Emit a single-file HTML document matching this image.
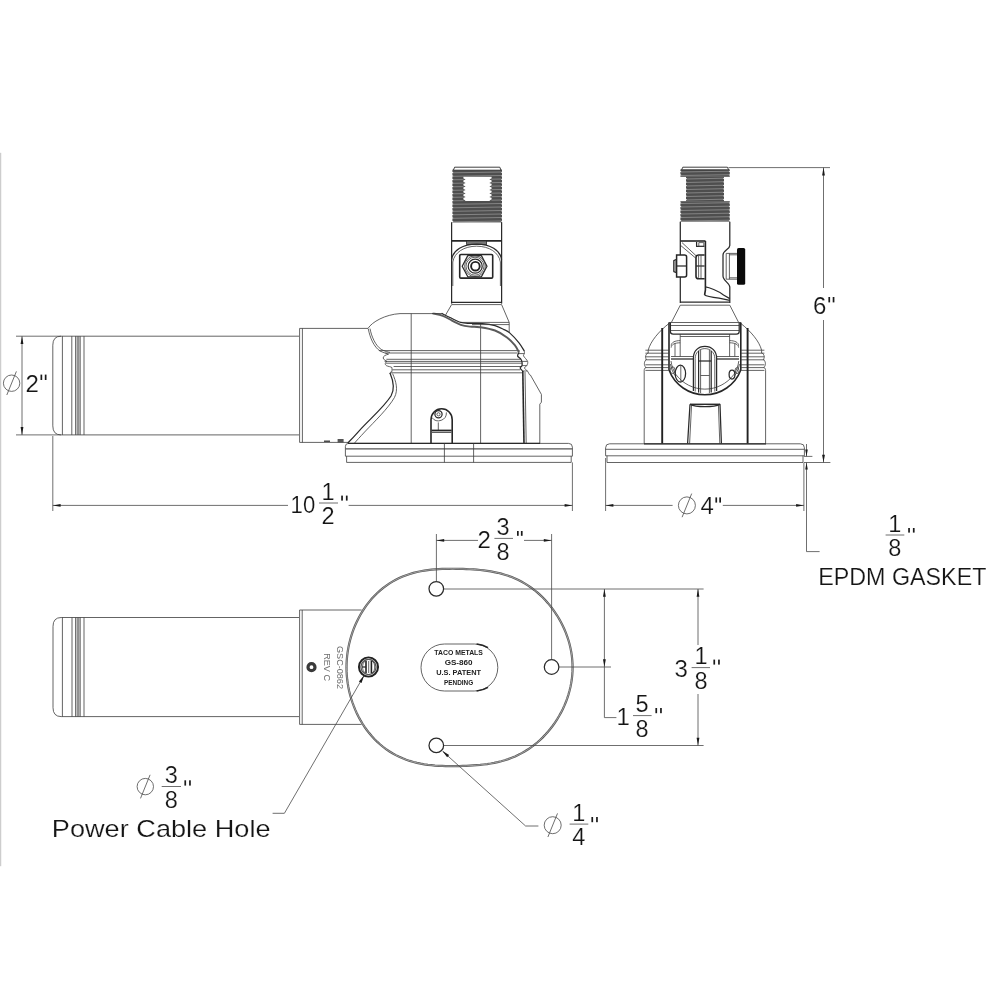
<!DOCTYPE html>
<html><head><meta charset="utf-8"><title>Drawing</title>
<style>
html,body{margin:0;padding:0;background:#fff;}
body{width:1000px;height:1000px;overflow:hidden;font-family:"Liberation Sans",sans-serif;}
svg{display:block;}
.l{stroke:#3c3c3c;stroke-width:.8;fill:none;stroke-linecap:butt;stroke-linejoin:round;}
.k{stroke:#2a2a2a;stroke-width:1.25;fill:none;stroke-linejoin:round;}
.kk{stroke:#222;stroke-width:1.9;fill:none;}
.kk2{stroke:#262626;stroke-width:1.6;fill:none;}
.d{stroke:#4a4a4a;stroke-width:.8;fill:none;}
.g{stroke:#555;stroke-width:1.3;fill:none;}
.a{fill:#1a1a1a;stroke:none;}
.t{font-family:"Liberation Sans",sans-serif;fill:#151515;stroke:#fff;stroke-width:.18;paint-order:fill stroke;}
.lab{font-family:"Liberation Sans",sans-serif;fill:#222;font-weight:bold;}
.rot{font-family:"Liberation Sans",sans-serif;fill:#6e6e6e;}
.scr{stroke:#3a3a3a;stroke-width:3.2;fill:#fff;}
</style></head>
<body>
<svg width="1000" height="1000" viewBox="0 0 1000 1000" style="opacity:.999;will-change:transform">
<rect x="0" y="0" width="1000" height="1000" fill="#fff"/>
<rect x="0" y="152.8" width="1.25" height="713.4" fill="#cdcdcd"/>
<path class="l" d="M299,336.2 H61 Q52.8,336.2 52.8,345.2 V425.9 Q52.8,434.9 61,434.9 H299"/>
<line class="l" x1="62.40" y1="336.20" x2="62.40" y2="434.90"/>
<line class="l" x1="71.80" y1="336.20" x2="71.80" y2="434.90"/>
<line class="l" x1="75.60" y1="336.20" x2="75.60" y2="434.90"/>
<line class="l" x1="77.20" y1="336.20" x2="77.20" y2="434.90"/>
<line class="l" x1="78.80" y1="336.20" x2="78.80" y2="434.90"/>
<line class="l" x1="80.20" y1="336.20" x2="80.20" y2="434.90"/>
<line class="l" x1="84.00" y1="336.20" x2="84.00" y2="434.90"/>
<line class="d" x1="16.00" y1="336.20" x2="61.00" y2="336.20"/>
<line class="d" x1="16.00" y1="434.90" x2="61.00" y2="434.90"/>
<line class="d" x1="22.00" y1="336.20" x2="22.00" y2="434.90"/>
<polygon class="a" points="22.00,336.20 23.40,344.00 20.60,344.00"/>
<polygon class="a" points="22.00,434.90 20.60,427.10 23.40,427.10"/>
<circle class="d" cx="11.60" cy="383.20" r="8.20"/>
<line class="d" x1="6.80" y1="395.00" x2="16.40" y2="371.40"/>
<text class="t" x="25.50" y="391.80" font-size="24" text-anchor="start">2</text>
<rect class="a" x="40.50" y="374.60" width="1.7" height="5.40"/>
<rect class="a" x="44.80" y="374.60" width="1.7" height="5.40"/>
<path class="l" d="M368,328.4 H299.6 V442.4 H348"/>
<line class="l" x1="302.40" y1="328.40" x2="302.40" y2="442.40"/>
<line class="k" x1="324.00" y1="441.20" x2="330.00" y2="441.20"/>
<rect x="337.6" y="439" width="6" height="3.6" fill="#555"/>
<path class="l" d="M368,328.4 C372,322 385,314.5 400,313.6 H433"/>
<path class="l" d="M368.3,328.8 C370,338 374,347 380,351 C384,353 387,353.5 388.5,354.2"/>
<path class="l" d="M370,328.6 C371.6,337 375.6,345.6 381.2,349.4 C385,351.4 388,352 390,352.4"/>
<path class="l" d="M388.5,354.2 C386,354.8 383,356 383.2,358 C383.4,360 386,360.4 387,361.4 C385,362.4 384.6,364.4 386.4,365.6 C388,366.6 391,366.6 392,367.6 V371.6"/>
<path class="l" d="M392,371.6 C390.4,372 389.6,372.8 390,374"/>
<path class="k" d="M390,373 C393,380 395.6,388 391,396 C384,407 370,419 359.4,430.6 C354.6,436 350.4,440.4 347.8,443"/>
<path class="l" d="M392.6,373.6 C395.8,381 398.6,389.4 394.4,397.6 C388,408.6 375,421 364.6,432 C360,437 356.4,440.8 354.6,443"/>
<line class="l" x1="379.00" y1="350.60" x2="519.60" y2="350.60"/>
<line class="l" x1="385.20" y1="353.00" x2="517.60" y2="353.00"/>
<line class="l" x1="386.40" y1="359.30" x2="520.80" y2="359.30"/>
<line class="l" x1="384.60" y1="361.40" x2="522.00" y2="361.40"/>
<line class="l" x1="386.00" y1="363.20" x2="522.00" y2="363.20"/>
<line class="l" x1="393.60" y1="366.50" x2="521.00" y2="366.50"/>
<line class="l" x1="392.40" y1="369.80" x2="520.20" y2="369.80"/>
<line class="l" x1="390.60" y1="372.80" x2="522.60" y2="372.80"/>
<line class="l" x1="411.20" y1="313.60" x2="411.20" y2="443.40"/>
<line class="l" x1="480.60" y1="324.00" x2="480.60" y2="443.40"/>
<path class="l" d="M524.40,351.20 C524.40,351.60 524.53,352.80 524.40,353.60 C524.27,354.40 523.07,354.70 523.60,356.00 C524.13,357.30 527.07,359.80 527.60,361.40 C528.13,363.00 527.33,364.50 526.80,365.60 C526.27,366.70 524.30,367.10 524.40,368.00 C524.50,368.90 526.57,369.90 527.40,371.00 C528.23,372.10 529.07,374.00 529.40,374.60"/>
<path class="k" d="M519.00,352.40 C518.77,353.00 517.30,354.90 517.60,356.00 C517.90,357.10 520.07,358.00 520.80,359.00 C521.53,360.00 521.80,360.90 522.00,362.00 C522.20,363.10 522.30,364.60 522.00,365.60 C521.70,366.60 520.10,367.10 520.20,368.00 C520.30,368.90 522.20,370.50 522.60,371.00"/>
<line class="l" x1="519.00" y1="353.60" x2="524.40" y2="353.60"/>
<line class="l" x1="522.00" y1="361.40" x2="527.40" y2="361.40"/>
<line class="l" x1="522.00" y1="365.60" x2="526.80" y2="365.60"/>
<line class="l" x1="522.60" y1="371.00" x2="527.40" y2="371.00"/>
<path class="kk2" d="M522.8,371 L524,443.4"/>
<path class="l" d="M525,372 L526.2,443.4"/>
<path class="l" d="M529.4,374.6 L530.4,375 L541.4,394.4 V402.2 L539.8,404.2 V443.4"/>
<path class="k" d="M441.60,313.40 C443.00,314.08 446.80,316.00 450.00,317.50 C453.20,319.00 457.47,321.42 460.80,322.40 C464.13,323.38 466.40,323.20 470.00,323.40 C473.60,323.60 478.23,323.22 482.40,323.60 C486.57,323.98 491.40,324.70 495.00,325.70 C498.60,326.70 501.60,328.45 504.00,329.60 C506.40,330.75 506.90,330.40 509.40,332.60 C511.90,334.80 516.50,339.70 519.00,342.80 C521.50,345.90 523.50,349.80 524.40,351.20"/>
<path d="M432.60,313.40 C434.30,313.80 439.57,314.60 442.80,315.80 C446.03,317.00 449.00,319.10 452.00,320.60 C455.00,322.10 457.80,323.80 460.80,324.80 C463.80,325.80 466.80,326.20 470.00,326.60 C473.20,327.00 475.83,326.55 480.00,327.20 C484.17,327.85 490.50,328.80 495.00,330.50 C499.50,332.20 503.70,334.95 507.00,337.40 C510.30,339.85 512.80,342.70 514.80,345.20 C516.80,347.70 518.30,351.20 519.00,352.40" fill="none" stroke="#5a5a5a" stroke-width="1.9"/>
<line class="l" x1="432.00" y1="313.50" x2="442.00" y2="313.50"/>
<line class="k" x1="451.60" y1="222.00" x2="451.60" y2="303.60"/>
<line class="k" x1="501.60" y1="222.00" x2="501.60" y2="303.60"/>
<line class="k" x1="451.60" y1="302.40" x2="501.60" y2="302.40"/>
<line class="l" x1="451.60" y1="304.60" x2="501.60" y2="304.60"/>
<line class="l" x1="451.60" y1="304.60" x2="445.60" y2="315.00"/>
<path class="l" d="M501.6,304.6 L509.2,322.4 V332.6"/>
<line class="l" x1="462.00" y1="322.40" x2="509.20" y2="322.40"/>
<line class="l" x1="472.00" y1="324.60" x2="509.20" y2="324.60"/>
<rect x="452.4" y="169.6" width="49.6" height="52.8" fill="#4e4e4e"/>
<line x1="452.4" y1="172.80" x2="502" y2="172.00" stroke="#8e8e8e" stroke-width="0.85"/>
<polygon fill="#fff" points="451.4,171.40 453.5,172.40 451.4,173.40"/>
<polygon fill="#fff" points="503,171.40 500.9,172.40 503,173.40"/>
<line x1="452.4" y1="176.30" x2="502" y2="175.50" stroke="#8e8e8e" stroke-width="0.85"/>
<polygon fill="#fff" points="451.4,174.90 453.5,175.90 451.4,176.90"/>
<polygon fill="#fff" points="503,174.90 500.9,175.90 503,176.90"/>
<line x1="452.4" y1="179.80" x2="502" y2="179.00" stroke="#8e8e8e" stroke-width="0.85"/>
<polygon fill="#fff" points="451.4,178.40 453.5,179.40 451.4,180.40"/>
<polygon fill="#fff" points="503,178.40 500.9,179.40 503,180.40"/>
<line x1="452.4" y1="183.30" x2="502" y2="182.50" stroke="#8e8e8e" stroke-width="0.85"/>
<polygon fill="#fff" points="451.4,181.90 453.5,182.90 451.4,183.90"/>
<polygon fill="#fff" points="503,181.90 500.9,182.90 503,183.90"/>
<line x1="452.4" y1="186.80" x2="502" y2="186.00" stroke="#8e8e8e" stroke-width="0.85"/>
<polygon fill="#fff" points="451.4,185.40 453.5,186.40 451.4,187.40"/>
<polygon fill="#fff" points="503,185.40 500.9,186.40 503,187.40"/>
<line x1="452.4" y1="190.30" x2="502" y2="189.50" stroke="#8e8e8e" stroke-width="0.85"/>
<polygon fill="#fff" points="451.4,188.90 453.5,189.90 451.4,190.90"/>
<polygon fill="#fff" points="503,188.90 500.9,189.90 503,190.90"/>
<line x1="452.4" y1="193.80" x2="502" y2="193.00" stroke="#8e8e8e" stroke-width="0.85"/>
<polygon fill="#fff" points="451.4,192.40 453.5,193.40 451.4,194.40"/>
<polygon fill="#fff" points="503,192.40 500.9,193.40 503,194.40"/>
<line x1="452.4" y1="197.30" x2="502" y2="196.50" stroke="#8e8e8e" stroke-width="0.85"/>
<polygon fill="#fff" points="451.4,195.90 453.5,196.90 451.4,197.90"/>
<polygon fill="#fff" points="503,195.90 500.9,196.90 503,197.90"/>
<line x1="452.4" y1="200.80" x2="502" y2="200.00" stroke="#8e8e8e" stroke-width="0.85"/>
<polygon fill="#fff" points="451.4,199.40 453.5,200.40 451.4,201.40"/>
<polygon fill="#fff" points="503,199.40 500.9,200.40 503,201.40"/>
<line x1="452.4" y1="204.30" x2="502" y2="203.50" stroke="#8e8e8e" stroke-width="0.85"/>
<polygon fill="#fff" points="451.4,202.90 453.5,203.90 451.4,204.90"/>
<polygon fill="#fff" points="503,202.90 500.9,203.90 503,204.90"/>
<line x1="452.4" y1="207.80" x2="502" y2="207.00" stroke="#8e8e8e" stroke-width="0.85"/>
<polygon fill="#fff" points="451.4,206.40 453.5,207.40 451.4,208.40"/>
<polygon fill="#fff" points="503,206.40 500.9,207.40 503,208.40"/>
<line x1="452.4" y1="211.30" x2="502" y2="210.50" stroke="#8e8e8e" stroke-width="0.85"/>
<polygon fill="#fff" points="451.4,209.90 453.5,210.90 451.4,211.90"/>
<polygon fill="#fff" points="503,209.90 500.9,210.90 503,211.90"/>
<line x1="452.4" y1="214.80" x2="502" y2="214.00" stroke="#8e8e8e" stroke-width="0.85"/>
<polygon fill="#fff" points="451.4,213.40 453.5,214.40 451.4,215.40"/>
<polygon fill="#fff" points="503,213.40 500.9,214.40 503,215.40"/>
<line x1="452.4" y1="218.30" x2="502" y2="217.50" stroke="#8e8e8e" stroke-width="0.85"/>
<polygon fill="#fff" points="451.4,216.90 453.5,217.90 451.4,218.90"/>
<polygon fill="#fff" points="503,216.90 500.9,217.90 503,218.90"/>
<line x1="452.4" y1="221.80" x2="502" y2="221.00" stroke="#8e8e8e" stroke-width="0.85"/>
<polygon fill="#fff" points="451.4,220.40 453.5,221.40 451.4,222.40"/>
<polygon fill="#fff" points="503,220.40 500.9,221.40 503,222.40"/>
<path d="M453.4,170.2 L454.6,167.2 H499.8 L501,170.2 Z" fill="#fff" stroke="#2a2a2a" stroke-width="0.9"/>
<rect x="463.4" y="176.8" width="28.2" height="24.2" fill="#fff"/>
<polygon fill="#4e4e4e" points="463.2,178.30 465.6,179.40 463.2,180.50"/>
<polygon fill="#4e4e4e" points="491.8,178.30 489.4,179.40 491.8,180.50"/>
<polygon fill="#4e4e4e" points="463.2,181.80 465.6,182.90 463.2,184.00"/>
<polygon fill="#4e4e4e" points="491.8,181.80 489.4,182.90 491.8,184.00"/>
<polygon fill="#4e4e4e" points="463.2,185.30 465.6,186.40 463.2,187.50"/>
<polygon fill="#4e4e4e" points="491.8,185.30 489.4,186.40 491.8,187.50"/>
<polygon fill="#4e4e4e" points="463.2,188.80 465.6,189.90 463.2,191.00"/>
<polygon fill="#4e4e4e" points="491.8,188.80 489.4,189.90 491.8,191.00"/>
<polygon fill="#4e4e4e" points="463.2,192.30 465.6,193.40 463.2,194.50"/>
<polygon fill="#4e4e4e" points="491.8,192.30 489.4,193.40 491.8,194.50"/>
<polygon fill="#4e4e4e" points="463.2,195.80 465.6,196.90 463.2,198.00"/>
<polygon fill="#4e4e4e" points="491.8,195.80 489.4,196.90 491.8,198.00"/>
<polygon fill="#4e4e4e" points="463.2,199.30 465.6,200.40 463.2,201.50"/>
<polygon fill="#4e4e4e" points="491.8,199.30 489.4,200.40 491.8,201.50"/>
<line class="kk2" x1="451.60" y1="240.90" x2="501.60" y2="240.90"/>
<rect x="466.6" y="241" width="20" height="3.4" fill="#777" stroke="#2a2a2a" stroke-width="0.8"/>
<path class="k" d="M451.6,259.6 C453,250 463,244 476.6,244 C490.2,244 500.2,250 501.6,259.6"/>
<path class="l" d="M452.8,286 V262 C454.4,252.4 464,246.2 476.6,246.2 C489.2,246.2 498.8,252.4 500.4,262 V286"/>
<rect class="kk2" x="459.7" y="254.5" width="33" height="23.6" rx="1.2"/>
<polygon class="k" points="462.20000000000005,266.2 467.8,255.6 481.40000000000003,255.6 487.0,266.2 481.40000000000003,276.8 467.8,276.8"/>
<circle class="l" cx="475.00" cy="266.20" r="10.40"/>
<circle class="l" cx="475.00" cy="266.20" r="9.00"/>
<circle class="k" cx="475.20" cy="266.20" r="7.00"/>
<circle class="kk" cx="475.40" cy="266.20" r="4.30"/>
<path class="kk2" d="M431,443.2 V419.8 C431,413.6 435.6,408.8 441.6,408.8 C447.6,408.8 452.2,413.6 452.2,419.8 V443.2"/>
<circle class="k" cx="438.50" cy="414.30" r="3.60"/>
<circle class="l" cx="438.50" cy="414.30" r="1.60"/>
<path class="l" d="M432,417.6 A8,8 0 0 0 446.4,412.4"/>
<line class="l" x1="438.30" y1="422.40" x2="438.30" y2="430.00"/>
<line class="kk2" x1="431.60" y1="430.40" x2="451.60" y2="430.40"/>
<line class="g" x1="431.60" y1="432.30" x2="451.60" y2="432.30"/>
<path class="l" d="M348.4,443.4 H568.6 Q572.4,443.4 572.4,447.2 V456.2 H345.4 V446.4 Q345.4,443.4 348.4,443.4"/>
<line class="k" x1="348.00" y1="443.30" x2="540.00" y2="443.30"/>
<line class="g" x1="345.40" y1="448.80" x2="572.40" y2="448.80"/>
<path class="l" d="M346.6,456.2 V462.4 H571.2 V456.2"/>
<line class="l" x1="444.40" y1="443.40" x2="444.40" y2="462.40"/>
<line class="l" x1="473.60" y1="443.40" x2="473.60" y2="462.40"/>
<line class="d" x1="52.80" y1="436.00" x2="52.80" y2="511.00"/>
<line class="d" x1="572.40" y1="462.40" x2="572.40" y2="511.00"/>
<line class="d" x1="52.80" y1="505.40" x2="288.00" y2="505.40"/>
<line class="d" x1="348.60" y1="505.40" x2="572.40" y2="505.40"/>
<polygon class="a" points="52.80,505.40 60.60,504.00 60.60,506.80"/>
<polygon class="a" points="572.40,505.40 564.60,506.80 564.60,504.00"/>
<text class="t" x="290.60" y="512.60" font-size="24" text-anchor="start" textLength="24.6" lengthAdjust="spacingAndGlyphs">10</text>
<text class="t" x="328.00" y="499.70" font-size="23.5" text-anchor="middle">1</text>
<line class="d" x1="319.00" y1="503.00" x2="338.00" y2="503.00"/>
<text class="t" x="328.00" y="524.30" font-size="23.5" text-anchor="middle">2</text>
<rect class="a" x="341.20" y="495.60" width="1.7" height="5.00"/>
<rect class="a" x="345.90" y="495.60" width="1.7" height="5.00"/>
<rect x="680.4" y="169.4" width="49.4" height="7.4" fill="#4e4e4e"/>
<rect x="686" y="176.6" width="38" height="24.8" fill="#4e4e4e"/>
<rect x="680.4" y="201.2" width="49.4" height="20.4" fill="#4e4e4e"/>
<line x1="680.4" y1="172.00" x2="729.8" y2="171.20" stroke="#8e8e8e" stroke-width="0.85"/>
<polygon fill="#fff" points="679.4,170.60 681.5,171.60 679.4,172.60"/>
<polygon fill="#fff" points="730.8,170.60 728.6999999999999,171.60 730.8,172.60"/>
<line x1="680.4" y1="175.50" x2="729.8" y2="174.70" stroke="#8e8e8e" stroke-width="0.85"/>
<polygon fill="#fff" points="679.4,174.10 681.5,175.10 679.4,176.10"/>
<polygon fill="#fff" points="730.8,174.10 728.6999999999999,175.10 730.8,176.10"/>
<line x1="686" y1="179.00" x2="724" y2="178.20" stroke="#8e8e8e" stroke-width="0.85"/>
<polygon fill="#fff" points="685,177.60 687.1,178.60 685,179.60"/>
<polygon fill="#fff" points="725,177.60 722.9,178.60 725,179.60"/>
<line x1="686" y1="182.50" x2="724" y2="181.70" stroke="#8e8e8e" stroke-width="0.85"/>
<polygon fill="#fff" points="685,181.10 687.1,182.10 685,183.10"/>
<polygon fill="#fff" points="725,181.10 722.9,182.10 725,183.10"/>
<line x1="686" y1="186.00" x2="724" y2="185.20" stroke="#8e8e8e" stroke-width="0.85"/>
<polygon fill="#fff" points="685,184.60 687.1,185.60 685,186.60"/>
<polygon fill="#fff" points="725,184.60 722.9,185.60 725,186.60"/>
<line x1="686" y1="189.50" x2="724" y2="188.70" stroke="#8e8e8e" stroke-width="0.85"/>
<polygon fill="#fff" points="685,188.10 687.1,189.10 685,190.10"/>
<polygon fill="#fff" points="725,188.10 722.9,189.10 725,190.10"/>
<line x1="686" y1="193.00" x2="724" y2="192.20" stroke="#8e8e8e" stroke-width="0.85"/>
<polygon fill="#fff" points="685,191.60 687.1,192.60 685,193.60"/>
<polygon fill="#fff" points="725,191.60 722.9,192.60 725,193.60"/>
<line x1="686" y1="196.50" x2="724" y2="195.70" stroke="#8e8e8e" stroke-width="0.85"/>
<polygon fill="#fff" points="685,195.10 687.1,196.10 685,197.10"/>
<polygon fill="#fff" points="725,195.10 722.9,196.10 725,197.10"/>
<line x1="686" y1="200.00" x2="724" y2="199.20" stroke="#8e8e8e" stroke-width="0.85"/>
<polygon fill="#fff" points="685,198.60 687.1,199.60 685,200.60"/>
<polygon fill="#fff" points="725,198.60 722.9,199.60 725,200.60"/>
<line x1="680.4" y1="203.50" x2="729.8" y2="202.70" stroke="#8e8e8e" stroke-width="0.85"/>
<polygon fill="#fff" points="679.4,202.10 681.5,203.10 679.4,204.10"/>
<polygon fill="#fff" points="730.8,202.10 728.6999999999999,203.10 730.8,204.10"/>
<line x1="680.4" y1="207.00" x2="729.8" y2="206.20" stroke="#8e8e8e" stroke-width="0.85"/>
<polygon fill="#fff" points="679.4,205.60 681.5,206.60 679.4,207.60"/>
<polygon fill="#fff" points="730.8,205.60 728.6999999999999,206.60 730.8,207.60"/>
<line x1="680.4" y1="210.50" x2="729.8" y2="209.70" stroke="#8e8e8e" stroke-width="0.85"/>
<polygon fill="#fff" points="679.4,209.10 681.5,210.10 679.4,211.10"/>
<polygon fill="#fff" points="730.8,209.10 728.6999999999999,210.10 730.8,211.10"/>
<line x1="680.4" y1="214.00" x2="729.8" y2="213.20" stroke="#8e8e8e" stroke-width="0.85"/>
<polygon fill="#fff" points="679.4,212.60 681.5,213.60 679.4,214.60"/>
<polygon fill="#fff" points="730.8,212.60 728.6999999999999,213.60 730.8,214.60"/>
<line x1="680.4" y1="217.50" x2="729.8" y2="216.70" stroke="#8e8e8e" stroke-width="0.85"/>
<polygon fill="#fff" points="679.4,216.10 681.5,217.10 679.4,218.10"/>
<polygon fill="#fff" points="730.8,216.10 728.6999999999999,217.10 730.8,218.10"/>
<line x1="680.4" y1="221.00" x2="729.8" y2="220.20" stroke="#8e8e8e" stroke-width="0.85"/>
<polygon fill="#fff" points="679.4,219.60 681.5,220.60 679.4,221.60"/>
<polygon fill="#fff" points="730.8,219.60 728.6999999999999,220.60 730.8,221.60"/>
<path d="M681.6,169.8 L682.8,167.2 H727.4 L728.6,169.8 Z" fill="#fff" stroke="#2a2a2a" stroke-width="0.9"/>
<line class="k" x1="680.30" y1="221.80" x2="680.30" y2="303.00"/>
<path class="k" d="M729.8,221.8 V245.4 C729.8,249.4 723,250.4 723,255 V276 C723,281 729.8,283 729.8,287 V303"/>
<line class="kk2" x1="680.30" y1="241.00" x2="705.50" y2="241.00"/>
<path class="kk2" d="M705.4,241 V290 L704.6,295"/>
<line class="l" x1="682.00" y1="242.60" x2="696.60" y2="256.20"/>
<line class="l" x1="680.60" y1="245.40" x2="695.60" y2="258.00"/>
<path class="k" d="M696.6,242 V246.4 H704.4"/>
<rect class="l" x="698.8" y="242.6" width="5" height="3.8"/>
<path d="M676.6,255 H684.6 Q686.6,255 686.6,257 V275 Q686.6,277 684.6,277 H676.6 Z" fill="#fff" stroke="#262626" stroke-width="1.5"/>
<path class="k" d="M676.6,259.4 L673.8,260.6 V271.6 L676.6,272.6"/>
<line class="l" x1="675.20" y1="260.40" x2="675.20" y2="271.80"/>
<line class="k" x1="676.60" y1="266.00" x2="686.60" y2="266.00"/>
<path class="kk2" d="M704.6,255 H698.6 Q696,255 696,257.6 V276.2 Q696,278.8 698.6,278.8 H704.6"/>
<line class="k" x1="696.00" y1="266.00" x2="704.60" y2="266.00"/>
<line class="l" x1="698.60" y1="256.00" x2="698.60" y2="277.80"/>
<line class="l" x1="701.00" y1="255.40" x2="701.00" y2="278.40"/>
<path class="k" d="M705.4,286.9 C709,287.4 718,290.6 723.5,295 L729.8,298.6"/>
<path class="k" d="M704.6,295 C706,296 712,297.2 719,298.2 L729.8,300.4"/>
<path class="l" d="M726.2,253.4 H737 M726.2,279.2 H737"/>
<line class="l" x1="726.20" y1="253.40" x2="726.20" y2="279.20"/>
<line class="l" x1="729.40" y1="253.40" x2="729.40" y2="279.20"/>
<line class="l" x1="729.40" y1="254.80" x2="737.00" y2="254.80"/>
<line class="l" x1="729.40" y1="277.80" x2="737.00" y2="277.80"/>
<rect x="737" y="248" width="8.2" height="36.8" rx="1.6" fill="#0a0a0a"/>
<line class="k" x1="680.30" y1="302.20" x2="729.80" y2="302.20"/>
<line class="l" x1="680.30" y1="305.20" x2="729.80" y2="305.20"/>
<line class="l" x1="680.30" y1="305.20" x2="671.40" y2="322.40"/>
<line class="l" x1="729.80" y1="305.20" x2="738.60" y2="322.40"/>
<line class="l" x1="668.80" y1="322.50" x2="741.00" y2="322.50"/>
<line class="l" x1="670.40" y1="325.50" x2="739.20" y2="325.50"/>
<line class="l" x1="670.40" y1="330.50" x2="739.20" y2="330.50"/>
<path class="k" d="M670.4,322.5 V331.4 Q670.4,334 673.2,334 H736.4 Q739.2,334 739.2,331.4 V322.5"/>
<line class="l" x1="680.20" y1="336.50" x2="729.60" y2="336.50"/>
<line class="l" x1="680.20" y1="334.00" x2="680.20" y2="356.60"/>
<line class="l" x1="729.60" y1="334.00" x2="729.60" y2="356.60"/>
<path class="l" d="M671.2,345.6 C671.2,342.4 675,340.6 680.2,340.6"/>
<path class="l" d="M738.6,345.6 C738.6,342.4 734.8,340.6 729.6,340.6"/>
<path class="l" d="M671.2,347.6 C671.2,344.4 675,342.8 680.2,342.8"/>
<path class="l" d="M738.6,347.6 C738.6,344.4 734.8,342.8 729.6,342.8"/>
<line class="l" x1="675.00" y1="343.40" x2="675.00" y2="356.50"/>
<line class="l" x1="734.80" y1="343.40" x2="734.80" y2="356.50"/>
<path class="l" d="M668.8,323.6 C659,331.4 650.6,341 648.2,350.2"/>
<path class="l" d="M741,323.6 C750.8,331.4 759.2,341 761.6,350.2"/>
<path class="l" d="M648.2,350.2 V353 C645.6,354 644.8,357 646.4,359.6 C644,361 643.6,365.6 646,367.4 C644.6,368 644.2,369.4 644.2,370.4 V443.6"/>
<path class="l" d="M761.6,350.2 V353 C764.2,354 765,357 763.4,359.6 C765.8,361 766.2,365.6 763.8,367.4 C765.2,368 765.6,369.4 765.6,370.4 V443.6"/>
<line class="l" x1="645.40" y1="350.20" x2="668.60" y2="350.20"/>
<line class="l" x1="741.20" y1="350.20" x2="764.40" y2="350.20"/>
<line class="l" x1="645.40" y1="353.20" x2="668.60" y2="353.20"/>
<line class="l" x1="741.20" y1="353.20" x2="764.40" y2="353.20"/>
<line class="l" x1="645.40" y1="356.80" x2="668.60" y2="356.80"/>
<line class="l" x1="741.20" y1="356.80" x2="764.40" y2="356.80"/>
<line class="l" x1="645.40" y1="359.80" x2="668.60" y2="359.80"/>
<line class="l" x1="741.20" y1="359.80" x2="764.40" y2="359.80"/>
<line class="l" x1="645.40" y1="364.80" x2="668.60" y2="364.80"/>
<line class="l" x1="741.20" y1="364.80" x2="764.40" y2="364.80"/>
<line class="l" x1="645.40" y1="367.60" x2="668.60" y2="367.60"/>
<line class="l" x1="741.20" y1="367.60" x2="764.40" y2="367.60"/>
<line class="l" x1="645.40" y1="370.40" x2="668.60" y2="370.40"/>
<line class="l" x1="741.20" y1="370.40" x2="764.40" y2="370.40"/>
<line class="kk" x1="662.20" y1="328.00" x2="662.20" y2="443.60"/>
<line class="kk" x1="747.60" y1="328.00" x2="747.60" y2="443.60"/>
<path class="kk2" d="M669,322.4 V370 A38.4,38.4 0 0 0 740.8,370 V322.4"/>
<path class="l" d="M671,361 C671.6,366 673.4,370.4 676,374.6 A36,36 0 0 0 733.8,374.6 C736.4,370.4 738.2,366 738.8,361"/>
<path class="l" d="M670.4,364 C671,368 672.6,372 675,375.6"/>
<path class="l" d="M739.4,364 C738.8,368 737.2,372 734.8,375.6"/>
<line class="l" x1="671.00" y1="356.50" x2="693.40" y2="356.50"/>
<line class="k" x1="671.00" y1="359.00" x2="693.40" y2="359.00"/>
<line class="l" x1="716.60" y1="356.50" x2="739.00" y2="356.50"/>
<line class="k" x1="716.60" y1="359.00" x2="739.00" y2="359.00"/>
<path class="k" d="M693.4,391 V358 C693.4,351 698,346.4 704.9,346.4 C711.8,346.4 716.6,351 716.6,358 V391"/>
<path class="l" d="M695.2,391.6 V358.4 C695.2,352.6 699.4,348.6 704.9,348.6 C710.4,348.6 714.8,352.6 714.8,358.4 V391.6"/>
<line class="k" x1="698.60" y1="351.00" x2="698.60" y2="392.60"/>
<line class="k" x1="711.20" y1="351.00" x2="711.20" y2="392.60"/>
<line class="l" x1="700.60" y1="350.00" x2="700.60" y2="393.00"/>
<line class="l" x1="709.40" y1="350.00" x2="709.40" y2="393.00"/>
<line class="k" x1="698.60" y1="361.00" x2="711.20" y2="361.00"/>
<line class="l" x1="700.60" y1="375.50" x2="709.40" y2="375.50"/>
<ellipse class="k" cx="680.4" cy="373.6" rx="5.2" ry="8.4"/>
<line class="l" x1="680.80" y1="365.40" x2="680.80" y2="381.80"/>
<ellipse class="l" cx="672.6" cy="370.2" rx="2.4" ry="3.4"/>
<ellipse class="k" cx="732" cy="374.6" rx="2.9" ry="4.4"/>
<ellipse class="l" cx="737" cy="370.6" rx="2" ry="3"/>
<path class="k" d="M690,404.4 H720 L721.4,443.6 M690,404.4 L687.6,443.6"/>
<path class="l" d="M691.6,404.4 L689.6,443.6 M718.4,404.4 L719.8,443.6"/>
<path class="k" d="M690,404.4 C696,407.4 714,407.4 720,404.4"/>
<line class="k" x1="690.00" y1="404.40" x2="720.00" y2="404.40"/>
<path class="l" d="M609.6,443.8 H800.4 Q804.4,443.8 804.4,447.8 V455.8 H605.6 V447.8 Q605.6,443.8 609.6,443.8"/>
<line class="k" x1="644.00" y1="443.80" x2="766.00" y2="443.80"/>
<line class="l" x1="605.60" y1="449.30" x2="804.40" y2="449.30"/>
<path class="l" d="M607,455.8 V462.5 H803 V455.8"/>
<line class="d" x1="605.60" y1="458.00" x2="605.60" y2="511.00"/>
<line class="d" x1="803.90" y1="462.50" x2="803.90" y2="511.00"/>
<line class="d" x1="605.60" y1="505.40" x2="672.60" y2="505.40"/>
<line class="d" x1="722.80" y1="505.40" x2="803.90" y2="505.40"/>
<polygon class="a" points="605.60,505.40 613.40,504.00 613.40,506.80"/>
<polygon class="a" points="803.90,505.40 796.10,506.80 796.10,504.00"/>
<circle class="d" cx="686.90" cy="505.40" r="8.50"/>
<line class="d" x1="682.10" y1="517.20" x2="691.70" y2="493.60"/>
<text class="t" x="700.60" y="514.40" font-size="24" text-anchor="start">4</text>
<rect class="a" x="715.40" y="497.40" width="1.7" height="5.20"/>
<rect class="a" x="719.30" y="497.40" width="1.7" height="5.20"/>
<line class="d" x1="728.40" y1="167.60" x2="830.00" y2="167.60"/>
<line class="d" x1="804.00" y1="462.50" x2="830.40" y2="462.50"/>
<line class="d" x1="823.50" y1="167.60" x2="823.50" y2="288.00"/>
<line class="d" x1="823.50" y1="320.00" x2="823.50" y2="462.50"/>
<polygon class="a" points="823.50,167.60 824.90,175.40 822.10,175.40"/>
<polygon class="a" points="823.50,462.50 822.10,454.70 824.90,454.70"/>
<text class="t" x="813.00" y="314.20" font-size="24" text-anchor="start">6</text>
<rect class="a" x="828.40" y="297.00" width="1.7" height="5.40"/>
<rect class="a" x="832.70" y="297.00" width="1.7" height="5.40"/>
<line class="d" x1="804.00" y1="456.40" x2="812.40" y2="456.40"/>
<line class="d" x1="806.50" y1="444.00" x2="806.50" y2="456.40"/>
<polygon class="a" points="806.50,456.40 805.20,449.40 807.80,449.40"/>
<line class="d" x1="806.50" y1="462.50" x2="806.50" y2="551.60"/>
<polygon class="a" points="806.50,462.50 807.80,469.50 805.20,469.50"/>
<line class="d" x1="806.50" y1="551.60" x2="819.60" y2="551.60"/>
<text class="t" x="894.90" y="531.70" font-size="23.5" text-anchor="middle">1</text>
<line class="d" x1="885.60" y1="535.00" x2="904.30" y2="535.00"/>
<text class="t" x="894.90" y="556.30" font-size="23.5" text-anchor="middle">8</text>
<rect class="a" x="908.20" y="528.00" width="1.7" height="4.60"/>
<rect class="a" x="912.90" y="528.00" width="1.7" height="4.60"/>
<text class="t" x="818.20" y="585.30" font-size="24" text-anchor="start" textLength="168.2" lengthAdjust="spacingAndGlyphs">EPDM GASKET</text>
<path class="l" d="M299,617.5 H61.2 Q53,617.5 53,626.5 V707.6 Q53,716.6 61.2,716.6 H299"/>
<line class="l" x1="62.40" y1="617.50" x2="62.40" y2="716.60"/>
<line class="l" x1="72.00" y1="617.50" x2="72.00" y2="716.60"/>
<line class="l" x1="75.60" y1="617.50" x2="75.60" y2="716.60"/>
<line class="l" x1="77.20" y1="617.50" x2="77.20" y2="716.60"/>
<line class="l" x1="78.80" y1="617.50" x2="78.80" y2="716.60"/>
<line class="l" x1="80.20" y1="617.50" x2="80.20" y2="716.60"/>
<line class="l" x1="84.00" y1="617.50" x2="84.00" y2="716.60"/>
<path class="l" d="M361.6,610 H299.6 V724.4 H361.6"/>
<line class="l" x1="302.20" y1="610.00" x2="302.20" y2="724.40"/>
<path d="M572.58,667.45 L572.49,671.40 L572.23,675.33 L571.81,679.25 L571.21,683.15 L570.45,687.01 L569.53,690.84 L568.46,694.62 L567.24,698.34 L565.88,702.01 L564.38,705.62 L562.74,709.16 L560.98,712.63 L559.10,716.03 L557.10,719.35 L554.99,722.58 L552.76,725.73 L550.43,728.78 L547.99,731.74 L545.45,734.60 L542.80,737.35 L540.06,739.99 L537.22,742.51 L534.30,744.90 L531.28,747.17 L528.18,749.30 L525.01,751.29 L521.76,753.14 L518.45,754.85 L515.09,756.41 L511.68,757.82 L508.23,759.09 L504.75,760.22 L501.25,761.22 L497.74,762.10 L494.22,762.85 L490.71,763.50 L487.20,764.05 L483.70,764.50 L480.21,764.89 L476.74,765.20 L473.27,765.46 L469.82,765.67 L466.38,765.83 L462.94,765.96 L459.50,766.05 L456.05,766.11 L452.60,766.14 L449.13,766.12 L445.64,766.06 L442.13,765.96 L438.60,765.79 L435.04,765.55 L431.46,765.22 L427.87,764.81 L424.25,764.29 L420.63,763.65 L417.01,762.88 L413.40,761.97 L409.80,760.92 L406.23,759.71 L402.70,758.35 L399.22,756.82 L395.80,755.13 L392.45,753.27 L389.18,751.26 L386.00,749.08 L382.92,746.76 L379.94,744.28 L377.07,741.67 L374.32,738.92 L371.69,736.06 L369.18,733.07 L366.79,729.98 L364.54,726.79 L362.41,723.51 L360.40,720.14 L358.53,716.70 L356.79,713.18 L355.18,709.60 L353.70,705.96 L352.35,702.26 L351.14,698.52 L350.07,694.74 L349.13,690.91 L348.33,687.05 L347.68,683.17 L347.17,679.26 L346.80,675.33 L346.58,671.39 L346.51,667.45 L346.58,663.51 L346.80,659.57 L347.17,655.64 L347.68,651.73 L348.33,647.85 L349.13,643.99 L350.07,640.16 L351.14,636.38 L352.35,632.64 L353.70,628.94 L355.18,625.30 L356.79,621.72 L358.53,618.20 L360.40,614.76 L362.41,611.39 L364.54,608.11 L366.79,604.92 L369.18,601.83 L371.69,598.84 L374.32,595.98 L377.07,593.23 L379.94,590.62 L382.92,588.14 L386.00,585.82 L389.18,583.64 L392.45,581.63 L395.80,579.77 L399.22,578.08 L402.70,576.55 L406.23,575.19 L409.80,573.98 L413.40,572.93 L417.01,572.02 L420.63,571.25 L424.25,570.61 L427.87,570.09 L431.46,569.68 L435.04,569.35 L438.60,569.11 L442.13,568.94 L445.64,568.84 L449.13,568.78 L452.60,568.76 L456.05,568.79 L459.50,568.85 L462.94,568.94 L466.38,569.07 L469.82,569.23 L473.27,569.44 L476.74,569.70 L480.21,570.01 L483.70,570.40 L487.20,570.85 L490.71,571.40 L494.22,572.05 L497.74,572.80 L501.25,573.68 L504.75,574.68 L508.23,575.81 L511.68,577.08 L515.09,578.49 L518.45,580.05 L521.76,581.76 L525.01,583.61 L528.18,585.60 L531.28,587.73 L534.30,590.00 L537.22,592.39 L540.06,594.91 L542.80,597.55 L545.45,600.30 L547.99,603.16 L550.43,606.12 L552.76,609.17 L554.99,612.32 L557.10,615.55 L559.10,618.87 L560.98,622.27 L562.74,625.74 L564.38,629.28 L565.88,632.89 L567.24,636.56 L568.46,640.28 L569.53,644.06 L570.45,647.89 L571.21,651.75 L571.81,655.65 L572.23,659.57 L572.49,663.50Z" fill="#fff" stroke="#585858" stroke-width="2.2"/>
<path d="M572.58,667.45 L572.49,671.40 L572.23,675.33 L571.81,679.25 L571.21,683.15 L570.45,687.01 L569.53,690.84 L568.46,694.62 L567.24,698.34 L565.88,702.01 L564.38,705.62 L562.74,709.16 L560.98,712.63 L559.10,716.03 L557.10,719.35 L554.99,722.58 L552.76,725.73 L550.43,728.78 L547.99,731.74 L545.45,734.60 L542.80,737.35 L540.06,739.99 L537.22,742.51 L534.30,744.90 L531.28,747.17 L528.18,749.30 L525.01,751.29 L521.76,753.14 L518.45,754.85 L515.09,756.41 L511.68,757.82 L508.23,759.09 L504.75,760.22 L501.25,761.22 L497.74,762.10 L494.22,762.85 L490.71,763.50 L487.20,764.05 L483.70,764.50 L480.21,764.89 L476.74,765.20 L473.27,765.46 L469.82,765.67 L466.38,765.83 L462.94,765.96 L459.50,766.05 L456.05,766.11 L452.60,766.14 L449.13,766.12 L445.64,766.06 L442.13,765.96 L438.60,765.79 L435.04,765.55 L431.46,765.22 L427.87,764.81 L424.25,764.29 L420.63,763.65 L417.01,762.88 L413.40,761.97 L409.80,760.92 L406.23,759.71 L402.70,758.35 L399.22,756.82 L395.80,755.13 L392.45,753.27 L389.18,751.26 L386.00,749.08 L382.92,746.76 L379.94,744.28 L377.07,741.67 L374.32,738.92 L371.69,736.06 L369.18,733.07 L366.79,729.98 L364.54,726.79 L362.41,723.51 L360.40,720.14 L358.53,716.70 L356.79,713.18 L355.18,709.60 L353.70,705.96 L352.35,702.26 L351.14,698.52 L350.07,694.74 L349.13,690.91 L348.33,687.05 L347.68,683.17 L347.17,679.26 L346.80,675.33 L346.58,671.39 L346.51,667.45 L346.58,663.51 L346.80,659.57 L347.17,655.64 L347.68,651.73 L348.33,647.85 L349.13,643.99 L350.07,640.16 L351.14,636.38 L352.35,632.64 L353.70,628.94 L355.18,625.30 L356.79,621.72 L358.53,618.20 L360.40,614.76 L362.41,611.39 L364.54,608.11 L366.79,604.92 L369.18,601.83 L371.69,598.84 L374.32,595.98 L377.07,593.23 L379.94,590.62 L382.92,588.14 L386.00,585.82 L389.18,583.64 L392.45,581.63 L395.80,579.77 L399.22,578.08 L402.70,576.55 L406.23,575.19 L409.80,573.98 L413.40,572.93 L417.01,572.02 L420.63,571.25 L424.25,570.61 L427.87,570.09 L431.46,569.68 L435.04,569.35 L438.60,569.11 L442.13,568.94 L445.64,568.84 L449.13,568.78 L452.60,568.76 L456.05,568.79 L459.50,568.85 L462.94,568.94 L466.38,569.07 L469.82,569.23 L473.27,569.44 L476.74,569.70 L480.21,570.01 L483.70,570.40 L487.20,570.85 L490.71,571.40 L494.22,572.05 L497.74,572.80 L501.25,573.68 L504.75,574.68 L508.23,575.81 L511.68,577.08 L515.09,578.49 L518.45,580.05 L521.76,581.76 L525.01,583.61 L528.18,585.60 L531.28,587.73 L534.30,590.00 L537.22,592.39 L540.06,594.91 L542.80,597.55 L545.45,600.30 L547.99,603.16 L550.43,606.12 L552.76,609.17 L554.99,612.32 L557.10,615.55 L559.10,618.87 L560.98,622.27 L562.74,625.74 L564.38,629.28 L565.88,632.89 L567.24,636.56 L568.46,640.28 L569.53,644.06 L570.45,647.89 L571.21,651.75 L571.81,655.65 L572.23,659.57 L572.49,663.50Z" fill="none" stroke="#ddd" stroke-width="0.55"/>
<circle class="k" cx="436.30" cy="588.80" r="7.30"/>
<circle class="k" cx="551.60" cy="667.00" r="7.30"/>
<circle class="k" cx="436.30" cy="745.40" r="7.30"/>
<rect class="l" x="421" y="644" width="76.8" height="47" rx="23.5"/>
<text class="lab" x="458.60" y="655.20" font-size="7.5" text-anchor="middle" textLength="48.6" lengthAdjust="spacingAndGlyphs">TACO METALS</text>
<text class="lab" x="458.60" y="665.10" font-size="7.5" text-anchor="middle" textLength="27.9" lengthAdjust="spacingAndGlyphs">GS-860</text>
<text class="lab" x="458.60" y="675.10" font-size="7.5" text-anchor="middle" textLength="44.9" lengthAdjust="spacingAndGlyphs">U.S. PATENT</text>
<text class="lab" x="458.60" y="684.90" font-size="7.5" text-anchor="middle" textLength="29.3" lengthAdjust="spacingAndGlyphs">PENDING</text>
<path class="kk2" d="M476.6,644 Q483,644.6 488,647.6"/>
<path class="kk2" d="M476.6,691 Q483,690.4 488,687.4"/>
<circle class="scr" cx="311.50" cy="667.20" r="3.50"/>
<text class="rot" transform="translate(324,653.2) rotate(90)" font-size="9.4" textLength="27.8" lengthAdjust="spacingAndGlyphs">REV C</text>
<text class="rot" transform="translate(337,646) rotate(90)" font-size="9.4" textLength="43" lengthAdjust="spacingAndGlyphs">GSC-0862</text>
<circle class="kk" cx="368.50" cy="667.00" r="9.60"/>
<circle class="g" cx="368.50" cy="667.00" r="7.60"/>
<rect x="365.2" y="660.6" width="1.6" height="12.8" fill="#222"/>
<rect x="370.6" y="660.6" width="1.6" height="12.8" fill="#222"/>
<rect x="368.2" y="661" width="1" height="12" fill="#666"/>
<line class="k" x1="362.00" y1="667.00" x2="366.00" y2="667.00"/>
<path class="l" d="M365.4,661 C361.6,662.6 361.6,671.4 365.4,673"/>
<path class="l" d="M372,661 C375.6,662.6 375.6,671.4 372,673"/>
<path class="d" d="M364,675.6 L284.4,813.3 H272.6"/>
<polygon class="a" points="364.20,675.20 361.50,682.88 358.90,681.38"/>
<circle class="d" cx="145.30" cy="786.60" r="8.20"/>
<line class="d" x1="140.50" y1="798.40" x2="150.10" y2="774.80"/>
<text class="t" x="171.30" y="783.20" font-size="23.5" text-anchor="middle">3</text>
<line class="d" x1="161.70" y1="786.50" x2="181.00" y2="786.50"/>
<text class="t" x="171.30" y="807.80" font-size="23.5" text-anchor="middle">8</text>
<rect class="a" x="184.40" y="780.30" width="1.7" height="5.30"/>
<rect class="a" x="189.10" y="780.30" width="1.7" height="5.30"/>
<text class="t" x="51.80" y="836.80" font-size="24" text-anchor="start" textLength="218.8" lengthAdjust="spacingAndGlyphs">Power Cable Hole</text>
<line class="d" x1="436.40" y1="534.00" x2="436.40" y2="581.50"/>
<line class="d" x1="551.60" y1="534.00" x2="551.60" y2="659.70"/>
<line class="d" x1="436.40" y1="540.40" x2="478.00" y2="540.40"/>
<line class="d" x1="524.00" y1="540.40" x2="551.60" y2="540.40"/>
<polygon class="a" points="436.40,540.40 444.20,539.00 444.20,541.80"/>
<polygon class="a" points="551.60,540.40 543.80,541.80 543.80,539.00"/>
<text class="t" x="477.60" y="548.20" font-size="24" text-anchor="start">2</text>
<text class="t" x="503.00" y="535.10" font-size="23.5" text-anchor="middle">3</text>
<line class="d" x1="494.40" y1="538.40" x2="513.00" y2="538.40"/>
<text class="t" x="503.00" y="559.70" font-size="23.5" text-anchor="middle">8</text>
<rect class="a" x="517.00" y="531.00" width="1.7" height="4.80"/>
<rect class="a" x="520.90" y="531.00" width="1.7" height="4.80"/>
<line class="d" x1="444.00" y1="589.00" x2="703.60" y2="589.00"/>
<line class="d" x1="559.00" y1="667.00" x2="611.00" y2="667.00"/>
<line class="d" x1="444.00" y1="745.50" x2="703.60" y2="745.50"/>
<path class="d" d="M604.4,589 V717.6 H616.4"/>
<polygon class="a" points="604.40,589.00 605.80,596.80 603.00,596.80"/>
<polygon class="a" points="604.40,667.00 603.00,659.20 605.80,659.20"/>
<text class="t" x="616.60" y="725.20" font-size="24" text-anchor="start">1</text>
<text class="t" x="642.00" y="712.30" font-size="23.5" text-anchor="middle">5</text>
<line class="d" x1="633.00" y1="715.60" x2="651.60" y2="715.60"/>
<text class="t" x="642.00" y="736.90" font-size="23.5" text-anchor="middle">8</text>
<rect class="a" x="655.40" y="708.00" width="1.7" height="5.20"/>
<rect class="a" x="660.10" y="708.00" width="1.7" height="5.20"/>
<line class="d" x1="698.00" y1="589.00" x2="698.00" y2="645.00"/>
<line class="d" x1="698.00" y1="694.00" x2="698.00" y2="745.50"/>
<polygon class="a" points="698.00,589.00 699.40,596.80 696.60,596.80"/>
<polygon class="a" points="698.00,745.50 696.60,737.70 699.40,737.70"/>
<text class="t" x="674.40" y="677.20" font-size="24" text-anchor="start">3</text>
<text class="t" x="701.00" y="664.30" font-size="23.5" text-anchor="middle">1</text>
<line class="d" x1="691.60" y1="667.60" x2="710.00" y2="667.60"/>
<text class="t" x="701.00" y="688.90" font-size="23.5" text-anchor="middle">8</text>
<rect class="a" x="713.40" y="659.60" width="1.7" height="5.00"/>
<rect class="a" x="718.10" y="659.60" width="1.7" height="5.00"/>
<path class="d" d="M443,751.6 L525.6,826 H538.4"/>
<polygon class="a" points="442.20,750.80 449.15,755.04 447.14,757.27"/>
<circle class="d" cx="552.70" cy="825.20" r="8.50"/>
<line class="d" x1="547.90" y1="837.00" x2="557.50" y2="813.40"/>
<text class="t" x="578.90" y="820.80" font-size="23.5" text-anchor="middle">1</text>
<line class="d" x1="569.60" y1="824.10" x2="588.30" y2="824.10"/>
<text class="t" x="578.90" y="845.40" font-size="23.5" text-anchor="middle">4</text>
<rect class="a" x="591.40" y="817.00" width="1.7" height="5.20"/>
<rect class="a" x="596.10" y="817.00" width="1.7" height="5.20"/>
</svg>
</body></html>
